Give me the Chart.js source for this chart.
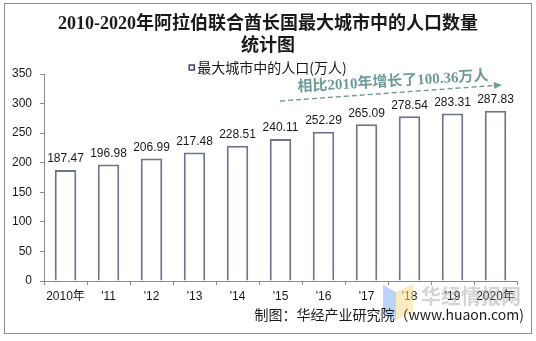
<!DOCTYPE html>
<html>
<head>
<meta charset="utf-8">
<script src="https://cdn.jsdelivr.net/npm/chart.js@4/dist/chart.umd.min.js"></script>
<style>
  html, body { margin: 0; padding: 0; background: #ffffff; }
  #wrap { width: 536px; height: 341px; }
</style>
</head>
<body>
<div id="wrap"><canvas id="c" width="536" height="341"></canvas></div>
<script>
// Population of the largest city (10k people), 2010-2020
const categories = ["2010年", "'11", "'12", "'13", "'14", "'15", "'16", "'17", "'18", "'19", "2020年"];
const population = [187.47, 196.98, 206.99, 217.48, 228.51, 240.11, 252.29, 265.09, 278.54, 283.31, 287.83];
const yTicks = [0, 50, 100, 150, 200, 250, 300, 350];

const titleLines = ["2010-2020年阿拉伯联合酋长国最大城市中的人口数量", "统计图"];
const seriesName = "最大城市中的人口(万人)";
const growthNote = "相比2010年增长了100.36万人";
const sourceNote = "制图：华经产业研究院（www.huaon.com)";
const brandMark = "华经情报网";

const BAR_EDGE = "#6d7490";
const NOTE_COLOR = "#6e9a9a";

// Title, legend, notes, frame and brand mark
const decorations = {
  id: "decorations",
  beforeDraw(chart) {
    const ctx = chart.ctx;
    ctx.save();
    ctx.fillStyle = "#ffffff";
    ctx.fillRect(0, 0, chart.width, chart.height);
    ctx.restore();
  },
  afterDatasetsDraw(chart) {
    const ctx = chart.ctx;
    const meta = chart.getDatasetMeta(0);
    // value labels above bars
    ctx.save();
    ctx.font = "12px Arial, 'Liberation Sans', sans-serif";
    ctx.fillStyle = "#1a1a1a";
    ctx.textAlign = "center";
    ctx.textBaseline = "bottom";
    meta.data.forEach((bar, i) => {
      ctx.fillText(population[i].toFixed(2), bar.x, bar.y - 5);
    });
    ctx.restore();
  },
  afterDraw(chart) {
    const ctx = chart.ctx;
    ctx.save();

    // outer frame
    ctx.strokeStyle = "#8c8c8c";
    ctx.lineWidth = 1;
    ctx.strokeRect(4.5, 3.5, 527, 330);

    // title
    ctx.fillStyle = "#1a1a1a";
    ctx.textAlign = "center";
    ctx.textBaseline = "middle";
    ctx.font = "bold 18px 'Liberation Serif', 'Noto Sans CJK SC', serif";
    ctx.fillText(titleLines[0], 268, 24);
    ctx.fillText(titleLines[1], 268, 46);

    // legend
    ctx.font = "14px 'Noto Sans CJK SC', sans-serif";
    ctx.textAlign = "left";
    const lw = ctx.measureText(seriesName).width;
    const lx = 268 - (lw + 8) / 2;
    ctx.fillStyle = "#ffffff";
    ctx.strokeStyle = "#3d4466";
    ctx.lineWidth = 1.5;
    ctx.fillRect(lx, 65, 5, 5);
    ctx.strokeRect(lx, 65, 5, 5);
    ctx.fillStyle = "#1a1a1a";
    ctx.fillText(seriesName, lx + 8, 68);

    // growth note with dashed arrow
    ctx.strokeStyle = NOTE_COLOR;
    ctx.fillStyle = NOTE_COLOR;
    ctx.lineWidth = 1.4;
    ctx.setLineDash([5, 3]);
    const x0 = 280, y0 = 101, x1 = 494, y1 = 85.5;
    ctx.beginPath();
    ctx.moveTo(x0, y0);
    ctx.lineTo(x1, y1);
    ctx.stroke();
    ctx.setLineDash([]);
    const ang = Math.atan2(y1 - y0, x1 - x0);
    ctx.save();
    ctx.translate(x1, y1);
    ctx.rotate(ang);
    ctx.beginPath();
    ctx.moveTo(8, 0);
    ctx.lineTo(0, -3.5);
    ctx.lineTo(0, 3.5);
    ctx.closePath();
    ctx.fill();
    ctx.restore();

    ctx.save();
    ctx.translate(393, 82);
    ctx.rotate(-0.06);
    ctx.font = "bold 15px 'Liberation Serif', 'Noto Sans CJK SC', serif";
    ctx.textAlign = "center";
    ctx.textBaseline = "middle";
    ctx.fillText(growthNote, 0, 0);
    ctx.restore();

    // brand mark
    ctx.globalAlpha = 0.55;
    ctx.fillStyle = "#7fb0f0";
    ctx.beginPath();
    ctx.moveTo(383, 285);
    ctx.lineTo(396, 292);
    ctx.lineTo(396, 321);
    ctx.lineTo(383, 314);
    ctx.closePath();
    ctx.fill();
    ctx.fillStyle = "#f6dc8a";
    ctx.beginPath();
    ctx.moveTo(396, 292);
    ctx.lineTo(413, 284);
    ctx.lineTo(413, 312);
    ctx.lineTo(396, 320);
    ctx.closePath();
    ctx.fill();
    ctx.globalAlpha = 0.45;
    ctx.fillStyle = "#a0a0a0";
    ctx.font = "bold 20px 'Noto Sans CJK SC', sans-serif";
    ctx.textAlign = "left";
    ctx.textBaseline = "middle";
    ctx.fillText(brandMark, 421, 296);
    ctx.globalAlpha = 1;

    // source
    ctx.fillStyle = "#1a1a1a";
    ctx.font = "14px 'Noto Sans CJK SC', sans-serif";
    ctx.textAlign = "right";
    ctx.textBaseline = "middle";
    ctx.fillText(sourceNote, 524, 315);

    ctx.restore();
  }
};

new Chart(document.getElementById("c"), {
  type: "bar",
  data: {
    labels: categories,
    datasets: [{
      label: seriesName,
      data: population,
      backgroundColor: "#ffffff",
      borderColor: BAR_EDGE,
      borderWidth: 2,
      categoryPercentage: 1,
      barPercentage: 0.5
    }]
  },
  options: {
    responsive: false,
    animation: false,
    devicePixelRatio: 1,
    layout: { padding: { top: 74, left: 0, right: 19, bottom: 0 } },
    plugins: {
      legend: { display: false },
      title: { display: false },
      tooltip: { enabled: false }
    },
    scales: {
      x: {
        offset: true,
        grid: { display: true, offset: true, drawOnChartArea: false, drawTicks: true, tickLength: 4, color: "#8c8c8c" },
        border: { display: true, color: "#8c8c8c", width: 1 },
        ticks: {
          color: "#1a1a1a",
          font: { family: "Arial, 'Liberation Sans', 'Noto Sans CJK SC', sans-serif", size: 12 },
          padding: 4,
          maxRotation: 0,
          autoSkip: false
        },
        afterFit(scale) { scale.height = 60; }
      },
      y: {
        min: 0,
        max: 350,
        afterBuildTicks(scale) { scale.ticks = yTicks.map(v => ({ value: v })); },
        grid: { display: true, drawOnChartArea: false, drawTicks: true, tickLength: 4, color: "#8c8c8c" },
        border: { display: true, color: "#8c8c8c", width: 1 },
        ticks: {
          color: "#1a1a1a",
          font: { family: "Arial, 'Liberation Sans', sans-serif", size: 12 },
          padding: 8
        },
        afterFit(scale) { scale.width = 44; }
      }
    }
  },
  plugins: [decorations]
});
</script>
</body>
</html>
